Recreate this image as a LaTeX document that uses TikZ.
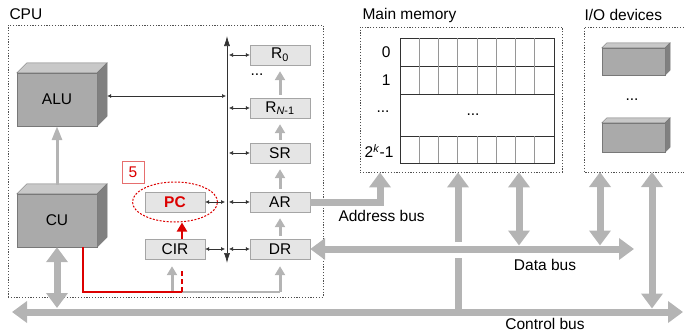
\documentclass[tikz,border=0pt]{standalone}
\usepackage{fontspec}
\setmainfont{Liberation Sans}
\usetikzlibrary{arrows.meta,shapes.geometric,positioning}
\usepackage{xcolor}

\definecolor{busgray}{RGB}{180,180,180}
\definecolor{regfill}{RGB}{229,229,229}
\definecolor{regline}{RGB}{165,165,165}
\definecolor{blockfront}{RGB}{170,170,170}
\definecolor{blocktop}{RGB}{200,200,200}
\definecolor{blockside}{RGB}{128,128,128}
\definecolor{blockline}{RGB}{120,120,120}
\definecolor{framecol}{RGB}{80,80,80}
\definecolor{linkcol}{RGB}{50,50,50}
\definecolor{pcred}{RGB}{220,0,0}
\definecolor{boxred}{RGB}{230,110,110}
\definecolor{gridline}{RGB}{50,50,50}
\definecolor{celline}{RGB}{150,150,150}

\tikzset{
  reg/.style={draw=regline, fill=regfill, minimum width=60pt, minimum height=20pt, inner sep=0pt},
  block/.style={draw=blockline, fill=blockfront, inner sep=0pt},
  dotbox/.style={draw=framecol, dash pattern=on 1.2pt off 1.6pt, line width=0.8pt, inner sep=0pt},
  bus/.style={busgray, line width=7pt},
  bush/.style={bus, -{Triangle[length=15pt,width=21pt]}},
  busd/.style={bus, {Triangle[length=15pt,width=21pt]}-{Triangle[length=15pt,width=21pt]}},
  feed/.style={busgray, line width=3pt, -{Triangle[length=9pt,width=10pt]}},
  link/.style={linkcol, line width=0.6pt, {Latex[length=4pt,width=4pt]}-{Latex[length=4pt,width=4pt]}}
}

\begin{document}
\begin{tikzpicture}[x=1pt,y=-1pt,font=\fontsize{15.5}{18}\selectfont]
\useasboundingbox (0,0) rectangle (684,332);

% frames
\node[dotbox, minimum width=315pt, minimum height=272pt] (cpu) at (165.5,161) {};
\node[anchor=west] (cpulbl) at (6,14) {CPU};
\node[dotbox, minimum width=202pt, minimum height=145pt] (mem) at (461,99.5) {};
\node[anchor=west] (memlbl) at (359,15) {Main memory};
\draw[dotbox] (684,27) -- (584,27) -- (584,172) -- (684,172);
\coordinate (iobot) at (584,172);
\node[anchor=west] (iolbl) at (581,15) {I/O devices};

% solid blocks
\node[block, minimum width=80pt, minimum height=53pt] (alu) at (57,99.5) {ALU};
\node[block, minimum width=80pt, minimum height=53pt] (cu) at (57,220.5) {CU};
\node[block, minimum width=63pt, minimum height=27pt] (dev1) at (633.5,61.5) {};
\node[block, minimum width=63pt, minimum height=29pt] (dev2) at (633.5,137.5) {};
\node (iodots) at (632,100) {...};
\foreach \b/\d in {alu/10,cu/10,dev1/5,dev2/5}{
  \filldraw[fill=blocktop, draw=blockline] (\b.north west) -- ([shift={(\d pt,\d pt)}]\b.north west)
    -- ([shift={(\d pt,\d pt)}]\b.north east) -- (\b.north east) -- cycle;
  \filldraw[fill=blockside, draw=blockline] (\b.north east) -- ([shift={(\d pt,\d pt)}]\b.north east)
    -- ([shift={(\d pt,\d pt)}]\b.south east) -- (\b.south east) -- cycle;
}

% registers
\node[reg] (r0) at (280,55) {R\textsubscript{0}};
\node (rdots) at (257,75) {...};
\node[reg] (rn) at (280,108) {R\textsubscript{\textit{N}-1}};
\node[reg] (sr) at (280,153) {SR};
\node[reg] (ar) at (280,202) {AR};
\node[reg] (dr) at (280,249) {DR};
\node[reg, text=pcred, font=\fontsize{15.5}{18}\selectfont\bfseries] (pc) at (175,202) {PC};
\node[reg] (cir) at (175,249) {CIR};
\node[ellipse, draw=pcred, dash pattern=on 2pt off 1.5pt, line width=1pt, minimum width=85pt, minimum height=40pt] (pcring) at (175,202) {};
\node[draw=boxred, text=pcred, fill=white, minimum width=22pt, minimum height=22pt, inner sep=0pt] (step5) at (133,172) {5};

% internal bus
\coordinate (itop) at (227,36);
\coordinate (ibot) at (227,263);
\draw[linkcol, line width=0.7pt, {Latex[length=10pt,width=6pt]}-{Latex[length=10pt,width=6pt]}] (ibot) -- (itop);
\foreach \r in {r0,rn,sr,ar,dr}
  \draw[link] ([xshift=2pt]itop |- \r.west) -- (\r.west);
\foreach \r in {pc,cir}
  \draw[link] (\r.east) -- ([xshift=-2pt]itop |- \r.east);
\coordinate (aluport) at ([shift={(10pt,3.5pt)}]alu.east);
\draw[link] (aluport) -- ([xshift=-1pt]itop |- aluport);
\foreach \a/\b in {rn/r0,sr/rn,ar/sr,dr/ar}
  \draw[feed, shorten <=3pt, shorten >=6pt] (\a.north) -- (\b.south);
\draw[feed, -{Triangle[length=14pt,width=10pt]}] ([yshift=9pt]cu.north) -- (alu.south);

% control signals
\coordinate (cuout) at ([xshift=26pt]cu.south);
\coordinate (sigbend) at (83,292);
\coordinate (sigsplit) at (182,292);
\coordinate (cirtap) at (172,292);
\coordinate (drtap) at (dr.south |- sigsplit);
\draw[busgray, line width=2.5pt] (sigsplit) -- (drtap);
\draw[feed, shorten >=7pt] (drtap) -- (dr.south);
\draw[feed, shorten >=7pt] (cirtap) -- (cirtap |- cir.south);
\draw[pcred, line width=2.5pt] (cuout) -- (sigbend) -- (sigsplit);
\draw[pcred, line width=2.5pt, dash pattern=on 5pt off 3pt, shorten >=9pt] (sigsplit) -- (sigsplit |- cir.south);
\draw[pcred, line width=2.8pt, -{Triangle[length=9pt,width=10pt]}] (sigsplit |- cir.north) -- (sigsplit |- pcring.south);

% buses
\coordinate (ctrlL) at (12,312);
\coordinate (ctrlR) at (683,312);
\draw[busd] (ctrlL) -- (ctrlR);
\node (ctrllbl) at (545,324) {Control bus};
\coordinate (cuctrl) at (57,308);
\draw[busd] (cu.south) -- (cuctrl);
\coordinate (memfeed) at (458,312);
\coordinate (gaplo) at (458,258);
\coordinate (gaphi) at (458,242);
\draw[bus] (memfeed) -- (gaplo);
\draw[bush] (gaphi) -- (gaphi |- mem.south);
\coordinate (dataR) at (634,249);
\draw[busd] (dr.east) -- (dataR);
\node (datalbl) at (545,265) {Data bus};
\coordinate (memdata) at (519,245.5);
\coordinate (iodata) at (600,245.5);
\coordinate (ioctrl) at (652,308.5);
\draw[busd] (memdata |- mem.south) -- (memdata);
\draw[busd] (iodata |- iobot) -- (iodata);
\draw[busd] (ioctrl |- iobot) -- (ioctrl);
\coordinate (addrbend) at (380,202);
\draw[bush] (ar.east) -- (addrbend) -- (addrbend |- mem.south);
\node[anchor=west] (addrlbl) at (335,216) {Address bus};

% memory cells
\node[draw=gridline, line width=0.9pt, minimum width=154pt, minimum height=125pt, inner sep=0pt] (grid) at (477,100.5) {};
\foreach \y in {66,94,136}
  \draw[gridline, line width=0.9pt] (400,\y) -- (554,\y);
\foreach \i in {1,...,7}{
  \draw[celline, line width=0.6pt] (400+19.25*\i,38) -- (400+19.25*\i,94);
  \draw[celline, line width=0.6pt] (400+19.25*\i,136) -- (400+19.25*\i,163);
}
\node[anchor=east] (row0) at (394,52) {0};
\node[anchor=east] (row1) at (394,80) {1};
\node (rowdots) at (383,112) {...};
\node[anchor=east] (rowk) at (397,151) {2\textsuperscript{\textit{k}}-1};
\node (celldots) at (473,115) {...};
\end{tikzpicture}
\end{document}
